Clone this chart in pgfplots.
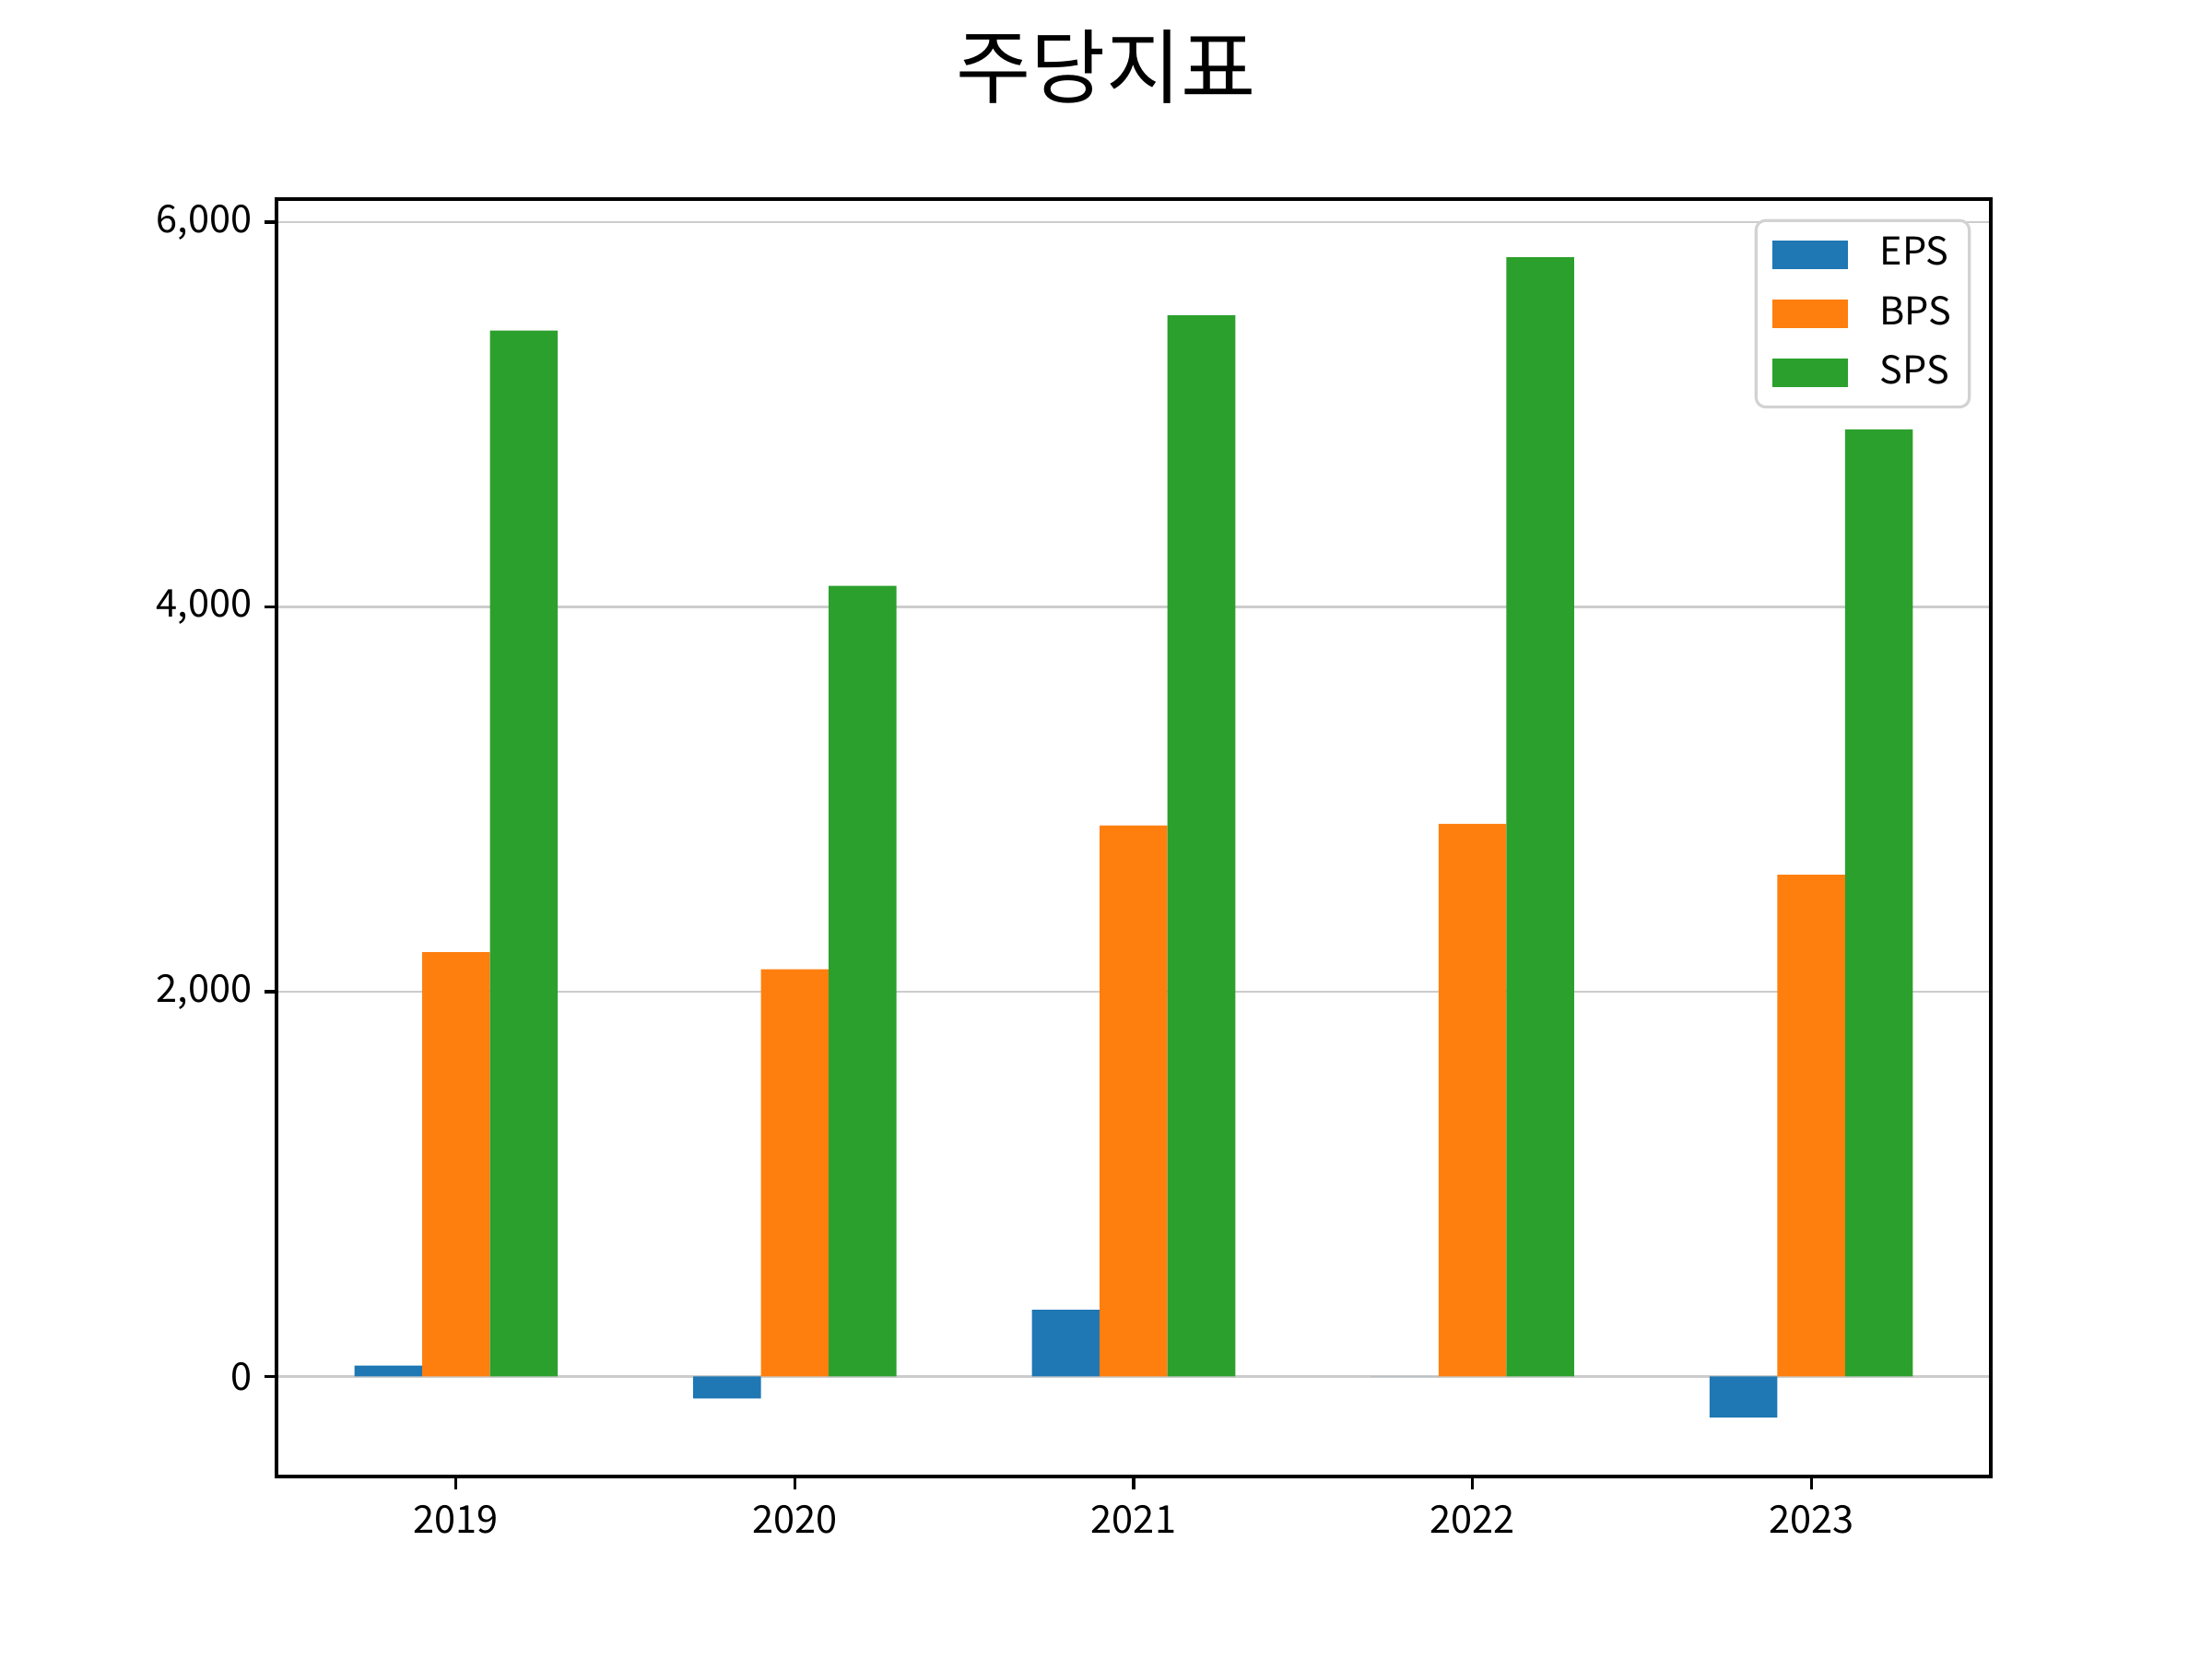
\documentclass[border=0pt]{standalone}
\usepackage{pgfplots}
\pgfplotsset{compat=1.18}
\usepackage{fontspec}
\setmainfont{Noto Sans CJK KR}
\definecolor{c1}{HTML}{1F77B4}
\definecolor{c2}{HTML}{FF7F0E}
\definecolor{c3}{HTML}{2CA02C}
\begin{document}
\begin{tikzpicture}
\useasboundingbox (0,0) rectangle (16.256cm,12.192cm);
\node[font=\fontsize{17}{20}\selectfont] at (8.128cm,11.70cm) {주당지표};
\begin{axis}[
  at={(2.032cm,1.341cm)}, anchor=south west,
  width=12.598cm, height=9.388cm, scale only axis,
  xmin=-0.53, xmax=4.53, ymin=-520, ymax=6120,
  xtick={0,1,2,3,4}, xticklabels={2019,2020,2021,2022,2023},
  ytick={0,2000,4000,6000},
  scaled y ticks=false,
  /pgf/number format/.cd, 1000 sep={,}, assume math mode=true, /pgfplots/.cd,
  tick align=outside, xtick pos=bottom, ytick pos=left,
  major tick length=2.6pt,
  tick style={black, line width=0.6pt},
  ymajorgrids, grid style={gray!40, line width=0.5pt},
  axis line style={line width=0.6pt},
  ticklabel style={font=\fontsize{8}{10}\selectfont},
  xticklabel style={yshift=0pt},
  yticklabel style={xshift=1pt},
  legend style={at={(1,1)}, xshift=-0.147cm, yshift=-0.147cm, anchor=north east, draw=gray!35, line width=0.6pt, rounded corners=2pt, font=\fontsize{8}{10}\selectfont, row sep=1.9pt, inner xsep=3.4pt, inner ysep=1.9pt, nodes={inner xsep=0.3pt, inner ysep=1.5pt}},
  legend cell align=left,
  legend image code/.code={\fill[#1, sharp corners] (0cm,-0.105cm) rectangle (0.555cm,0.105cm); \path (0.78cm,0);},
]
\addplot[ybar, bar width=0.2, bar shift=-0.2, fill=c1, draw=none] coordinates {(0,57) (1,-114) (2,346) (3,0) (4,-213)};
\addlegendentry{EPS}
\addplot[ybar, bar width=0.2, bar shift=0, fill=c2, draw=none] coordinates {(0,2205) (1,2117) (2,2864) (3,2872) (4,2608)};
\addlegendentry{BPS}
\addplot[ybar, bar width=0.2, bar shift=0.2, fill=c3, draw=none] coordinates {(0,5436) (1,4110) (2,5516) (3,5817) (4,4923)};
\addlegendentry{SPS}
\end{axis}
\end{tikzpicture}
\end{document}
